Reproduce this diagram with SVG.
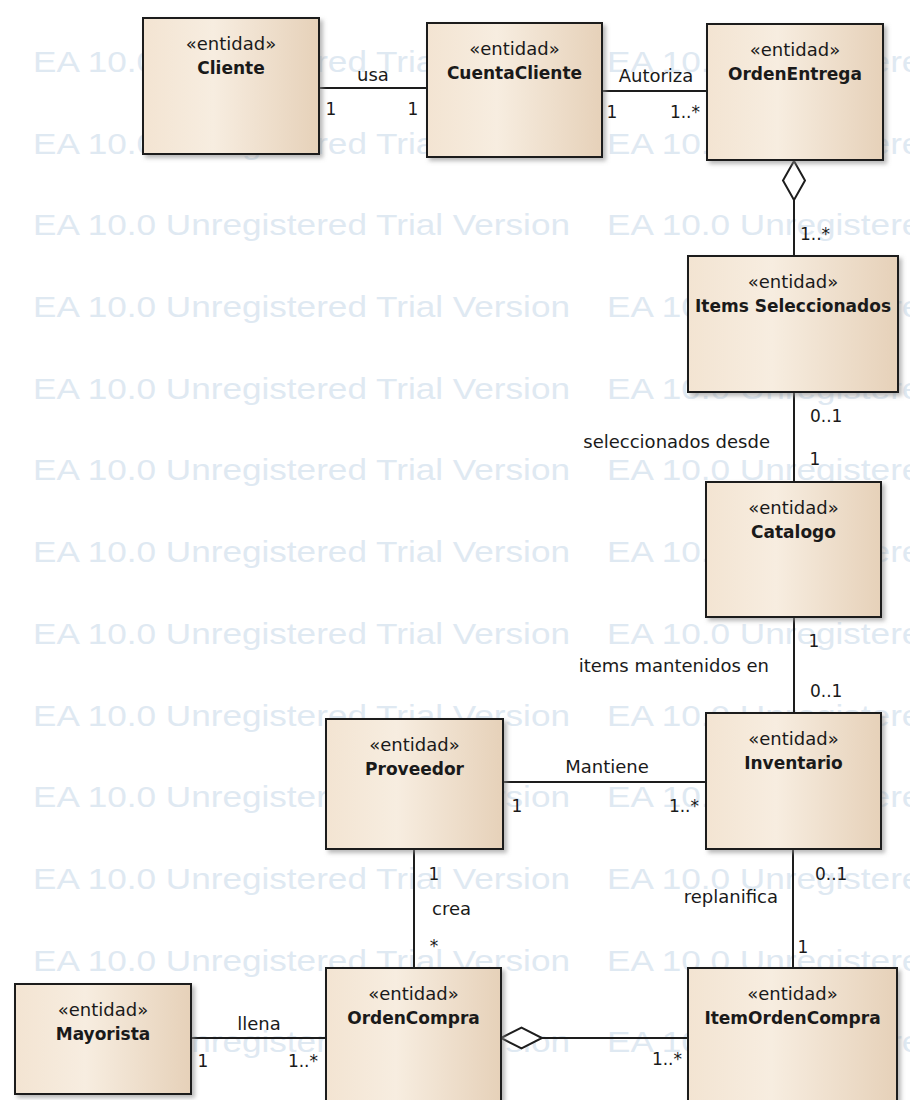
<svg xmlns="http://www.w3.org/2000/svg" width="910" height="1100" viewBox="0 0 910 1100">
  <style>
    .wm { font-family: "Liberation Sans", Arial, sans-serif; font-size: 29px; fill: #dfe9f2; }
    .box { fill: url(#boxFill); stroke: #1d1d1d; stroke-width: 2; filter: url(#shadow); }
    .st { font-family: "DejaVu Sans", Verdana, sans-serif; font-size: 18px; fill: #1a1a1a; text-anchor: middle; }
    .nm { font-family: "DejaVu Sans", Verdana, sans-serif; font-size: 17px; font-weight: bold; fill: #1a1a1a; text-anchor: middle; }
    .lbl { font-family: "DejaVu Sans", Verdana, sans-serif; font-size: 18px; fill: #1a1a1a; }
    .mul { font-family: "DejaVu Sans", Verdana, sans-serif; font-size: 17px; fill: #1a1a1a; }
    .ln { stroke: #1d1d1d; stroke-width: 2; fill: none; }
    .agg { stroke: #1d1d1d; stroke-width: 2; fill: #ffffff; }
  </style>
  <defs>
    <linearGradient id="boxFill" x1="0" y1="0" x2="1" y2="0">
      <stop offset="0" stop-color="#f3e4d2"/>
      <stop offset="0.4" stop-color="#f7ede0"/>
      <stop offset="1" stop-color="#e6d1b9"/>
    </linearGradient>
    <filter id="shadow" x="-10%" y="-10%" width="125%" height="125%">
      <feDropShadow dx="3" dy="3" stdDeviation="2" flood-color="#8a8a8a" flood-opacity="0.6"/>
    </filter>
  </defs>

  <rect width="910" height="1100" fill="#ffffff"/>

  <!-- evaluation watermark rows -->
  <g id="watermark">
    <text class="wm" x="33" y="72" textLength="537" lengthAdjust="spacingAndGlyphs">EA 10.0 Unregistered Trial Version</text>
    <text class="wm" x="607" y="72" textLength="537" lengthAdjust="spacingAndGlyphs">EA 10.0 Unregistered Trial Version</text>
    <text class="wm" x="33" y="154" textLength="537" lengthAdjust="spacingAndGlyphs">EA 10.0 Unregistered Trial Version</text>
    <text class="wm" x="607" y="154" textLength="537" lengthAdjust="spacingAndGlyphs">EA 10.0 Unregistered Trial Version</text>
    <text class="wm" x="33" y="235" textLength="537" lengthAdjust="spacingAndGlyphs">EA 10.0 Unregistered Trial Version</text>
    <text class="wm" x="607" y="235" textLength="537" lengthAdjust="spacingAndGlyphs">EA 10.0 Unregistered Trial Version</text>
    <text class="wm" x="33" y="317" textLength="537" lengthAdjust="spacingAndGlyphs">EA 10.0 Unregistered Trial Version</text>
    <text class="wm" x="607" y="317" textLength="537" lengthAdjust="spacingAndGlyphs">EA 10.0 Unregistered Trial Version</text>
    <text class="wm" x="33" y="399" textLength="537" lengthAdjust="spacingAndGlyphs">EA 10.0 Unregistered Trial Version</text>
    <text class="wm" x="607" y="399" textLength="537" lengthAdjust="spacingAndGlyphs">EA 10.0 Unregistered Trial Version</text>
    <text class="wm" x="33" y="480" textLength="537" lengthAdjust="spacingAndGlyphs">EA 10.0 Unregistered Trial Version</text>
    <text class="wm" x="607" y="480" textLength="537" lengthAdjust="spacingAndGlyphs">EA 10.0 Unregistered Trial Version</text>
    <text class="wm" x="33" y="562" textLength="537" lengthAdjust="spacingAndGlyphs">EA 10.0 Unregistered Trial Version</text>
    <text class="wm" x="607" y="562" textLength="537" lengthAdjust="spacingAndGlyphs">EA 10.0 Unregistered Trial Version</text>
    <text class="wm" x="33" y="644" textLength="537" lengthAdjust="spacingAndGlyphs">EA 10.0 Unregistered Trial Version</text>
    <text class="wm" x="607" y="644" textLength="537" lengthAdjust="spacingAndGlyphs">EA 10.0 Unregistered Trial Version</text>
    <text class="wm" x="33" y="726" textLength="537" lengthAdjust="spacingAndGlyphs">EA 10.0 Unregistered Trial Version</text>
    <text class="wm" x="607" y="726" textLength="537" lengthAdjust="spacingAndGlyphs">EA 10.0 Unregistered Trial Version</text>
    <text class="wm" x="33" y="807" textLength="537" lengthAdjust="spacingAndGlyphs">EA 10.0 Unregistered Trial Version</text>
    <text class="wm" x="607" y="807" textLength="537" lengthAdjust="spacingAndGlyphs">EA 10.0 Unregistered Trial Version</text>
    <text class="wm" x="33" y="889" textLength="537" lengthAdjust="spacingAndGlyphs">EA 10.0 Unregistered Trial Version</text>
    <text class="wm" x="607" y="889" textLength="537" lengthAdjust="spacingAndGlyphs">EA 10.0 Unregistered Trial Version</text>
    <text class="wm" x="33" y="971" textLength="537" lengthAdjust="spacingAndGlyphs">EA 10.0 Unregistered Trial Version</text>
    <text class="wm" x="607" y="971" textLength="537" lengthAdjust="spacingAndGlyphs">EA 10.0 Unregistered Trial Version</text>
    <text class="wm" x="33" y="1052" textLength="537" lengthAdjust="spacingAndGlyphs">EA 10.0 Unregistered Trial Version</text>
    <text class="wm" x="607" y="1052" textLength="537" lengthAdjust="spacingAndGlyphs">EA 10.0 Unregistered Trial Version</text>
  </g>

  <!-- associations -->
  <g id="connectors">
    <!-- Cliente - CuentaCliente -->
    <line class="ln" x1="319" y1="88" x2="427" y2="88"/>
    <text class="lbl" x="373" y="81" text-anchor="middle">usa</text>
    <text class="mul" x="331" y="115" text-anchor="middle">1</text>
    <text class="mul" x="413" y="115" text-anchor="middle">1</text>

    <!-- CuentaCliente - OrdenEntrega -->
    <line class="ln" x1="602" y1="91" x2="707" y2="91"/>
    <text class="lbl" x="656" y="82" text-anchor="middle">Autoriza</text>
    <text class="mul" x="612" y="118" text-anchor="middle">1</text>
    <text class="mul" x="700" y="118" text-anchor="end">1..*</text>

    <!-- OrdenEntrega <>- ItemsSeleccionados -->
    <line class="ln" x1="794" y1="200" x2="794" y2="256"/>
    <polygon class="agg" points="794,161 805,180.5 794,200 783,180.5"/>
    <text class="mul" x="800" y="240">1..*</text>

    <!-- ItemsSeleccionados - Catalogo -->
    <line class="ln" x1="794" y1="392" x2="794" y2="482"/>
    <text class="mul" x="810" y="422">0..1</text>
    <text class="lbl" x="770" y="448" text-anchor="end">seleccionados desde</text>
    <text class="mul" x="815" y="465" text-anchor="middle">1</text>

    <!-- Catalogo - Inventario -->
    <line class="ln" x1="794" y1="617" x2="794" y2="713"/>
    <text class="mul" x="814" y="647" text-anchor="middle">1</text>
    <text class="lbl" x="769" y="672" text-anchor="end">items mantenidos en</text>
    <text class="mul" x="810" y="697">0..1</text>

    <!-- Proveedor - Inventario -->
    <line class="ln" x1="503" y1="782" x2="706" y2="782"/>
    <text class="lbl" x="607" y="773" text-anchor="middle">Mantiene</text>
    <text class="mul" x="517" y="812" text-anchor="middle">1</text>
    <text class="mul" x="699" y="812" text-anchor="end">1..*</text>

    <!-- Proveedor - OrdenCompra -->
    <line class="ln" x1="414" y1="849" x2="414" y2="968"/>
    <text class="mul" x="434" y="880" text-anchor="middle">1</text>
    <text class="lbl" x="432" y="915">crea</text>
    <text class="mul" x="434" y="952" text-anchor="middle">*</text>

    <!-- Inventario - ItemOrdenCompra -->
    <line class="ln" x1="793" y1="849" x2="793" y2="968"/>
    <text class="mul" x="815" y="880">0..1</text>
    <text class="lbl" x="778" y="903" text-anchor="end">replanifica</text>
    <text class="mul" x="803" y="953" text-anchor="middle">1</text>

    <!-- Mayorista - OrdenCompra -->
    <line class="ln" x1="191" y1="1038" x2="326" y2="1038"/>
    <text class="lbl" x="259" y="1030" text-anchor="middle">llena</text>
    <text class="mul" x="203" y="1067" text-anchor="middle">1</text>
    <text class="mul" x="318" y="1067" text-anchor="end">1..*</text>

    <!-- OrdenCompra <>- ItemOrdenCompra -->
    <line class="ln" x1="542" y1="1038" x2="688" y2="1038"/>
    <polygon class="agg" points="501,1038 521.5,1027.5 542,1038 521.5,1048.5"/>
    <text class="mul" x="682" y="1065" text-anchor="end">1..*</text>
  </g>

  <!-- entity classes -->
  <g id="cliente">
    <rect class="box" x="143" y="18" width="176" height="136"/>
    <text class="st" x="231" y="50">«entidad»</text>
    <text class="nm" x="231" y="74">Cliente</text>
  </g>
  <g id="cuentaCliente">
    <rect class="box" x="427" y="23" width="175" height="134"/>
    <text class="st" x="514.5" y="55">«entidad»</text>
    <text class="nm" x="514.5" y="79">CuentaCliente</text>
  </g>
  <g id="ordenEntrega">
    <rect class="box" x="707" y="24" width="176" height="136"/>
    <text class="st" x="795" y="56">«entidad»</text>
    <text class="nm" x="795" y="80">OrdenEntrega</text>
  </g>
  <g id="itemsSeleccionados">
    <rect class="box" x="688" y="256" width="210" height="136"/>
    <text class="st" x="793" y="288">«entidad»</text>
    <text class="nm" x="793" y="312">Items Seleccionados</text>
  </g>
  <g id="catalogo">
    <rect class="box" x="706" y="482" width="175" height="135"/>
    <text class="st" x="793.5" y="514">«entidad»</text>
    <text class="nm" x="793.5" y="538">Catalogo</text>
  </g>
  <g id="inventario">
    <rect class="box" x="706" y="713" width="175" height="136"/>
    <text class="st" x="793.5" y="745">«entidad»</text>
    <text class="nm" x="793.5" y="769">Inventario</text>
  </g>
  <g id="proveedor">
    <rect class="box" x="326" y="719" width="177" height="130"/>
    <text class="st" x="414.5" y="751">«entidad»</text>
    <text class="nm" x="414.5" y="775">Proveedor</text>
  </g>
  <g id="ordenCompra">
    <rect class="box" x="326" y="968" width="175" height="150"/>
    <text class="st" x="413.5" y="1000">«entidad»</text>
    <text class="nm" x="413.5" y="1024">OrdenCompra</text>
  </g>
  <g id="mayorista">
    <rect class="box" x="15" y="984" width="176" height="110"/>
    <text class="st" x="103" y="1016">«entidad»</text>
    <text class="nm" x="103" y="1040">Mayorista</text>
  </g>
  <g id="itemOrdenCompra">
    <rect class="box" x="688" y="968" width="209" height="150"/>
    <text class="st" x="792.5" y="1000">«entidad»</text>
    <text class="nm" x="792.5" y="1024">ItemOrdenCompra</text>
  </g>
</svg>
